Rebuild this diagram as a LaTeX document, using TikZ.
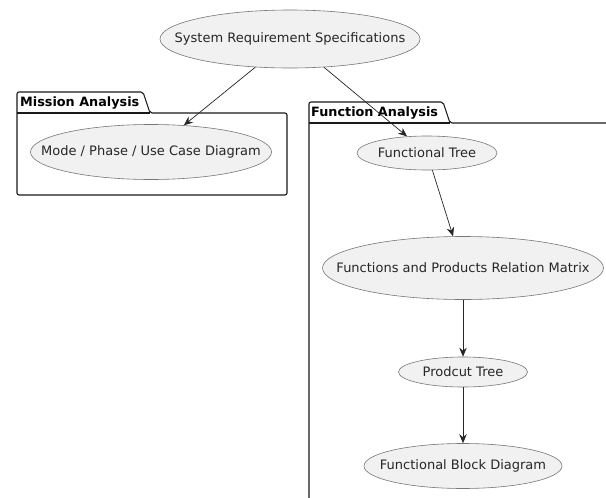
\documentclass[tikz,border=0pt]{standalone}
\usepackage{fontspec}
\setmainfont{DejaVu Sans}
\usetikzlibrary{shapes.geometric,arrows.meta}
\definecolor{ellfill}{HTML}{F1F1F1}
\definecolor{ellline}{HTML}{777777}
\begin{document}
\begin{tikzpicture}[x=1pt,y=-1pt,
  uc/.style={ellipse, draw=ellline, line width=0.6pt, fill=ellfill, inner sep=0pt,
             text=black!85, font=\fontsize{13}{15}\selectfont},
  flow/.style={-{Stealth[length=9pt,width=7.5pt,inset=3pt]}, line width=0.7pt, draw=black!85},
  pkg/.style={draw=black!90, line width=1.1pt, rounded corners=2pt},
  pkglabel/.style={anchor=west, inner sep=0pt, font=\fontsize{12.8}{15}\selectfont\bfseries}
]
\useasboundingbox (0,0) rectangle (606,498);
\clip (0,0) rectangle (606,498);
\fill[white] (0,0) rectangle (606,498);

% packages
\draw[pkg] (17,195) -- (17,92) -- (143,92) -- (150,113) -- (287,113) -- (287,195) -- cycle;
\draw[pkg] (17,113) -- (150,113);
\node[pkglabel] (ma) at (20,103) {Mission Analysis};

\draw[pkg] (309,520) -- (309,102) -- (443,102) -- (450,123) -- (630,123);
\draw[pkg] (309,123) -- (450,123);
\node[pkglabel] (fa) at (311,113) {Function Analysis};

% use cases
\node[uc, minimum width=260pt, minimum height=58pt] (srs) at (290,39)
  {\makebox[0pt]{System Requirement Specifications}};
\node[uc, minimum width=241pt, minimum height=55pt] (mode) at (151,152)
  {\makebox[0pt]{Mode / Phase / Use Case Diagram}};
\node[uc, minimum width=140pt, minimum height=34pt] (ft) at (427,153)
  {\makebox[0pt]{Functional Tree}};
\node[uc, minimum width=281pt, minimum height=63pt] (fprm) at (463,268)
  {\makebox[0pt]{Functions and Products Relation Matrix}};
\node[uc, minimum width=129pt, minimum height=30pt] (pt) at (463,372)
  {\makebox[0pt]{Prodcut Tree}};
\node[uc, minimum width=198pt, minimum height=45pt] (fbd) at (463,466)
  {\makebox[0pt]{Functional Block Diagram}};

% connectors
\draw[flow] (srs) -- (mode);
\draw[flow] (srs) -- (ft);
\draw[flow] (ft) -- (fprm);
\draw[flow] (fprm) -- (pt);
\draw[flow] (pt) -- (fbd);
\end{tikzpicture}
\end{document}
